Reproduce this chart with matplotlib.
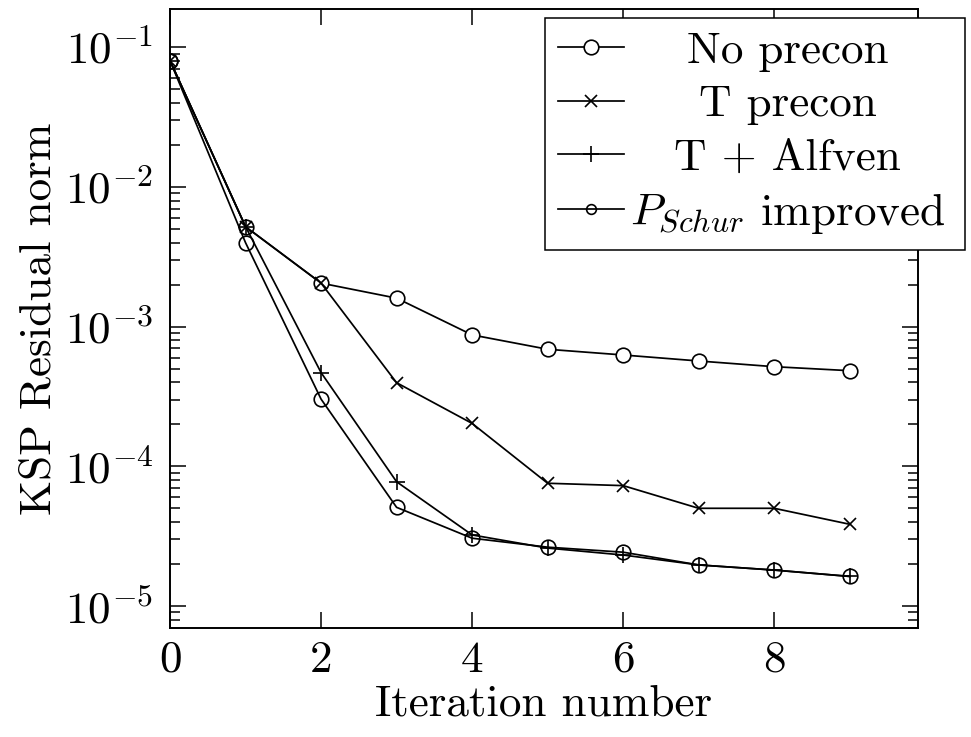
import math
import matplotlib
matplotlib.use('Agg')
import matplotlib.pyplot as plt
from matplotlib.ticker import FuncFormatter, LogLocator, FixedLocator
from matplotlib.offsetbox import VPacker

plt.rcParams['font.family'] = 'serif'
plt.rcParams['font.serif'] = ['cmr10']
plt.rcParams['mathtext.fontset'] = 'cm'
plt.rcParams['axes.unicode_minus'] = False

iterations = [0, 1, 2, 3, 4, 5, 6, 7, 8, 9]
no_precon = [0.0802, 0.00520, 0.00205, 0.00160, 8.73e-4, 6.89e-4, 6.27e-4, 5.68e-4, 5.17e-4, 4.84e-4]
t_precon = [0.0802, 0.00520, 0.00205, 3.97e-4, 2.03e-4, 7.57e-5, 7.28e-5, 5.01e-5, 5.01e-5, 3.85e-5]
t_alfven = [0.0802, 0.00520, 4.69e-4, 7.76e-5, 3.23e-5, 2.60e-5, 2.32e-5, 1.97e-5, 1.81e-5, 1.63e-5]
p_schur = [0.0802, 0.00399, 3.03e-4, 5.09e-5, 3.06e-5, 2.64e-5, 2.43e-5, 1.97e-5, 1.81e-5, 1.63e-5]
labels = ['No precon', 'T precon', 'T + Alfven', r'$P_{Schur}$ improved']

fs = 32.5
fig = plt.figure(figsize=(9.71, 7.37), dpi=100)
ax = fig.add_axes([0.1751, 0.1479, 0.9451 - 0.1751, 0.9878 - 0.1479])

lw = 1.25
ax.plot(iterations, no_precon, color='black', lw=lw, marker='o', ms=10.5,
        mfc='white', mec='black', mew=1.2, label=labels[0])
ax.plot(iterations, t_precon, color='black', lw=lw, marker='x', ms=8,
        mec='black', mew=1.2, label=labels[1])
ax.plot(iterations, t_alfven, color='black', lw=lw, marker='+', ms=11,
        mec='black', mew=1.2, label=labels[2])
ax.plot(iterations, p_schur, color='black', lw=lw, marker='o', ms=10.5,
        mfc='none', mec='black', mew=1.2, label=labels[3])

ax.set_yscale('log')
ax.set_xlim(0, 9.9)
ax.set_ylim(10 ** -5.157, 10 ** -0.726)
ax.xaxis.set_major_locator(FixedLocator([0, 2, 4, 6, 8]))
ax.yaxis.set_major_locator(LogLocator(base=10, numticks=10))
ax.yaxis.set_minor_locator(LogLocator(base=10, subs=range(2, 10), numticks=20))
ax.yaxis.set_major_formatter(FuncFormatter(lambda v, p: r'$10^{%d}$' % round(math.log10(v))))

for s in ax.spines.values():
    s.set_linewidth(1.4)
ax.tick_params(which='both', direction='in', top=True, right=True, labelsize=fs, width=1.1)
ax.tick_params(which='major', length=11.5)
ax.tick_params(which='minor', length=7.5)
ax.tick_params(axis='x', pad=9)
ax.tick_params(axis='y', pad=12)

ax.set_xlabel('Iteration number', fontsize=fs, labelpad=3)
ax.set_ylabel('KSP Residual norm', fontsize=fs, labelpad=4)

leg = ax.legend(loc='upper right', bbox_to_anchor=(965 / 971, 1 - 18 / 737),
                bbox_transform=fig.transFigure, fontsize=fs, frameon=True,
                fancybox=False, edgecolor='black', framealpha=1,
                handlelength=1.45, handletextpad=0.0, labelspacing=0.28,
                borderpad=0.3, borderaxespad=0)
leg.get_frame().set_linewidth(1.1)
leg.legend_handles[3].set_markersize(7)

# centre legend texts like pgfplots
fig.canvas.draw()
renderer = fig.canvas.get_renderer()
w = max(t.get_window_extent(renderer).width for t in leg.get_texts()) + 12
for col in leg._legend_handle_box.get_children():
    for row in col.get_children():
        kids = row.get_children()
        row._children = [kids[0], VPacker(pad=0, sep=0, children=[kids[1]], align='center', width=w)]

fig.savefig('out.png', dpi=100)
